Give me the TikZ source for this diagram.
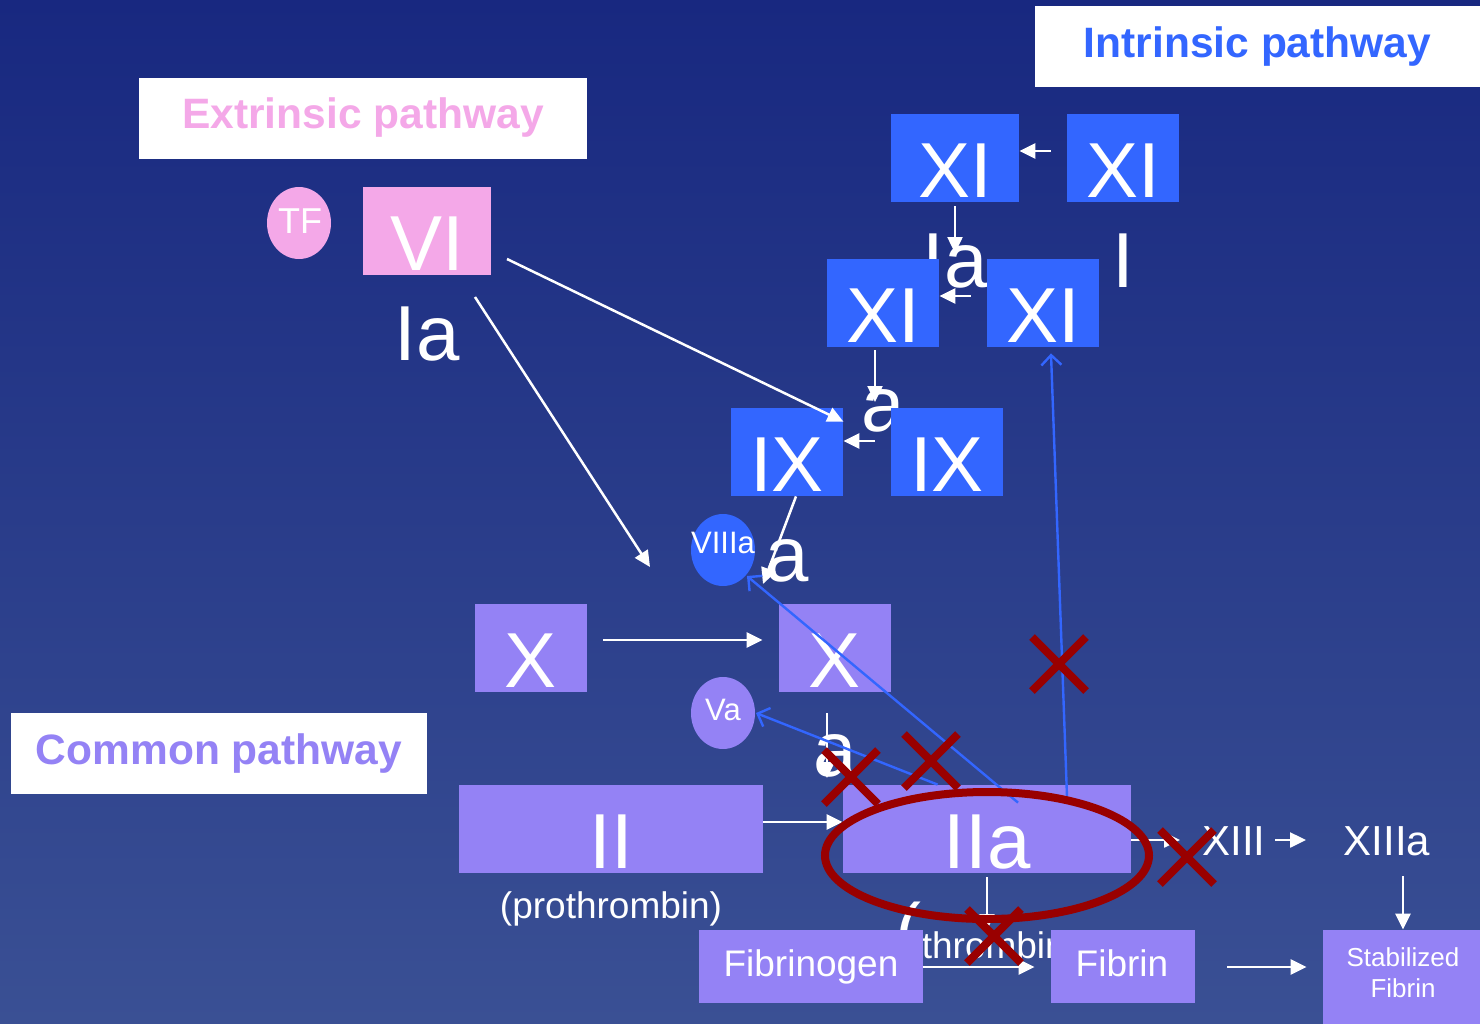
\documentclass[tikz,border=0pt]{standalone}
\usepackage{fontspec}
\setmainfont{Liberation Sans}
\usetikzlibrary{arrows.meta,shapes.geometric,shapes.misc}
\definecolor{bgtop}{RGB}{24,40,128}
\definecolor{bgbot}{RGB}{58,80,148}
\definecolor{fblue}{RGB}{51,102,255}
\definecolor{fpurple}{RGB}{148,130,245}
\definecolor{fpink}{RGB}{244,168,232}
\definecolor{xred}{RGB}{153,0,0}
\begin{document}
\begin{tikzpicture}[x=0.5pt,y=-0.5pt,
  fbox/.style={rectangle, inner sep=0pt, minimum height=44pt},
  bigtxt/.style={anchor=base, inner sep=0pt, text=white, font=\fontsize{39pt}{45pt}\selectfont},
  medtxt/.style={anchor=base, inner sep=0pt, text=white, font=\fontsize{18.5pt}{22pt}\selectfont},
  xiiitxt/.style={anchor=base, inner sep=0pt, text=white, font=\fontsize{21pt}{24pt}\selectfont},
  circtxt/.style={anchor=base, inner sep=0pt, text=white, font=\fontsize{15.5pt}{18pt}\selectfont},
  titlebox/.style={rectangle, fill=white, inner sep=0pt, minimum height=40.5pt, font=\fontsize{21.25pt}{24pt}\selectfont\bfseries},
  circ/.style={ellipse, inner sep=0pt, minimum width=32pt, minimum height=36pt},
  warr/.style={draw=white, line width=1.25pt, -{Triangle[length=8pt,width=7.5pt]}},
  barr/.style={draw=fblue, line width=1.2pt, -{Straight Barb[length=5pt,width=10pt]}},
  xmark/.style={cross out, draw=xred, line width=4pt, minimum size=23pt, inner sep=0pt}
]
% background
\shade[top color=bgtop, bottom color=bgbot] (0,0) rectangle (1480,1024);
\useasboundingbox (0,0) rectangle (1480,1024);

% overflowing second lines of box texts
\node[bigtxt] (vi2) at (427,360) {Ia};
\node[bigtxt] (xiia2) at (955,287) {Ia};
\node[bigtxt] (xii2) at (1123,287) {I};
\node[bigtxt] (xia2) at (883,431) {a};
\node[bigtxt] (ixa2) at (787,581) {a};
\node[bigtxt] (xa2) at (835,776) {a};
\node[bigtxt] (iia2) at (987,958) {(\fontsize{18.5pt}{22pt}\selectfont thrombin)};

% title boxes
\node[titlebox, minimum width=222.5pt, text=fblue] (intr) at (1257.5,46.5) {Intrinsic pathway};
\node[titlebox, minimum width=224pt, text=fpink] (extr) at (363,118) {Extrinsic pathway};
\node[titlebox, minimum width=208pt, text=fpurple] (comm) at (219,753.5) {Common pathway};

% extrinsic
\node[circ, fill=fpink] (tf) at (299,223) {};
\node[circtxt, font=\fontsize{18pt}{20pt}\selectfont] (tft) at (300,233) {TF};
\node[fbox, fill=fpink, minimum width=64pt] (vi) at (427,231) {};
\node[bigtxt] (vit) at (427,270) {VI};

% intrinsic
\node[fbox, fill=fblue, minimum width=64pt] (xiia) at (955,158) {};
\node[bigtxt] (xiiat) at (955,197) {XI};
\node[fbox, fill=fblue, minimum width=56pt] (xii) at (1123,158) {};
\node[bigtxt] (xiit) at (1123,197) {XI};
\node[fbox, fill=fblue, minimum width=56pt] (xia) at (883,303) {};
\node[bigtxt] (xiat) at (883,342) {XI};
\node[fbox, fill=fblue, minimum width=56pt] (xi) at (1043,303) {};
\node[bigtxt] (xit) at (1043,342) {XI};
\node[fbox, fill=fblue, minimum width=56pt] (ixa) at (787,452) {};
\node[bigtxt] (ixat) at (787,491) {IX};
\node[fbox, fill=fblue, minimum width=56pt] (ix) at (947,452) {};
\node[bigtxt] (ixt) at (947,491) {IX};
\node[circ, fill=fblue] (viiia) at (723,550) {};
\node[circtxt] (viiiat) at (723,553) {VIIIa};

% common
\node[fbox, fill=fpurple, minimum width=56pt] (x) at (531,648) {};
\node[bigtxt] (xt) at (531,687) {X};
\node[fbox, fill=fpurple, minimum width=56pt] (xa) at (835,648) {};
\node[bigtxt] (xat) at (835,687) {X};
\node[circ, fill=fpurple] (va) at (723,713) {};
\node[circtxt] (vat) at (723,720) {Va};
\node[fbox, fill=fpurple, minimum width=152pt] (ii) at (611,829) {};
\node[bigtxt] (iit) at (611,868) {II};
\node[medtxt] (prot) at (611,918) {(prothrombin)};
\node[fbox, fill=fpurple, minimum width=144pt] (iia) at (987,829) {};
\node[bigtxt] (iiat) at (987,868) {IIa};
\node[fbox, fill=fpurple, minimum width=112pt, minimum height=36.5pt] (fbg) at (811,966.5) {};
\node[medtxt] (fbgt) at (811,976) {Fibrinogen};
\node[fbox, fill=fpurple, minimum width=72pt, minimum height=36.5pt] (fbn) at (1123,966.5) {};
\node[medtxt] (fbnt) at (1122,976) {Fibrin};
\node[fbox, fill=fpurple, minimum width=78.5pt, minimum height=47pt] (stab) at (1401.5,977) {};
\node[anchor=base, inner sep=0pt, text=white, align=center, font=\fontsize{13pt}{15.5pt}\selectfont] (stabt) at (1403,997) {Stabilized\\Fibrin};
\node[xiiitxt] (xiii) at (1234,855) {XIII};
\node[xiiitxt] (xiiia) at (1387,855) {XIIIa};

% free arrow ends
\coordinate (e-xiia) at (955,253);
\coordinate (e-xia) at (875,402);
\coordinate (s-vi1) at (507,259);
\coordinate (s-vi2) at (475,297);
\coordinate (e-vi2) at (650,567);
\coordinate (e-ixa) at (763,584);
\coordinate (e-xa) at (827,778);
\coordinate (e-iia) at (987,930);
\coordinate (e-iiax) at (1180,840);
\coordinate (s-xiii) at (1275,840);
\coordinate (e-xiii) at (1306,840);
\coordinate (s-xiiia) at (1403,876);

% white arrows
\draw[warr] ([shift={(-16,-7)}]xii.west) -- ([shift={(0,-7)}]xiia.east);
\draw[warr] ([shift={(0,4)}]xiia.south) -- (e-xiia);
\draw[warr] ([shift={(-16,-7)}]xi.west) -- ([shift={(0,-7)}]xia.east);
\draw[warr] ([shift={(-8,3)}]xia.south) -- (e-xia);
\draw[warr] ([shift={(-16,-11)}]ix.west) -- ([shift={(0,-11)}]ixa.east);
\draw[warr] (s-vi1) -- ([shift={(0,14)}]ixa.north east);
\draw[warr] (s-vi2) -- (e-vi2);
\draw[warr] ([shift={(9,0)}]ixa.south) -- (e-ixa);
\draw[warr] ([shift={(16,-8)}]x.east) -- ([shift={(-16,-8)}]xa.west);
\draw[warr] ([shift={(-8,21)}]xa.south) -- (e-xa);
\draw[warr] ([shift={(0,-7)}]ii.east) -- ([shift={(0,-7)}]iia.west);
\draw[warr] ([shift={(0,4)}]iia.south) -- (e-iia);
\draw[warr] ([shift={(0,0.5)}]fbg.east) -- ([shift={(-16,0.5)}]fbn.west);
\draw[warr] ([shift={(32,0.5)}]fbn.east) -- ([shift={(-16,-10)}]stab.west);
\draw[warr] ([shift={(0,11)}]iia.east) -- (e-iiax);
\draw[warr] (s-xiii) -- (e-xiii);
\draw[warr] (s-xiiia) -- ([shift={(1.5,0)}]stab.north);

% blue feedback arrows
\draw[barr] ([shift={(31,18)}]iia.north) -- ([shift={(24,26)}]viiia.center);
\draw[barr] ([shift={(95,0)}]iia.north west) -- ([shift={(33,0)}]va.center);
\draw[barr] ([shift={(80,12)}]iia.north) -- ([shift={(8,6)}]xi.south);

% inhibition marks
\node[ellipse, draw=xred, line width=4pt, inner sep=0pt, minimum width=162pt, minimum height=63.5pt] (ring) at (987,855.5) {};
\node[xmark] (x1) at (851,777) {};
\node[xmark] (x2) at (931,761) {};
\node[xmark] (x3) at (1059,664) {};
\node[xmark] (x4) at (1187,857) {};
\node[xmark] (x5) at (994,936) {};
\end{tikzpicture}
\end{document}
